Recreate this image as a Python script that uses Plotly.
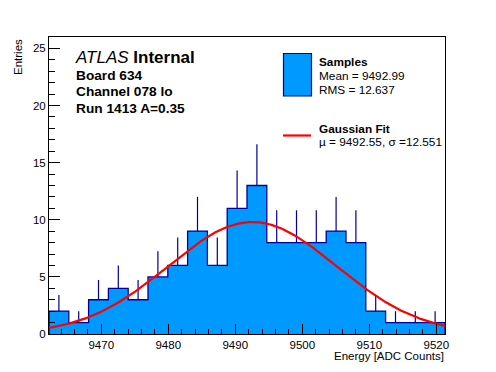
import numpy as np
import plotly.graph_objects as go

# ---- data ----
x_min, x_max = 9462.2, 9521.3
counts = [2, 1, 3, 4, 3, 5, 6, 9, 6, 11, 13, 8, 8, 8, 9, 8, 2, 1, 1, 1]
fit_mu, fit_sigma, fit_amp = 9492.55, 12.551, 9.8
y_range = [0, 26]
x_ticks = [9470, 9480, 9490, 9500, 9510, 9520]

title_lines = ["Board 634", "Channel 078 lo", "Run 1413 A=0.35"]
legend_samples = ["Mean = 9492.99", "RMS = 12.637"]
legend_fit = "\u00b5 = 9492.55, \u03c3 =12.551"

OFF = 8  # page body margin
W, H = 496 - OFF, 372 - OFF
L, R, T, B = 49 - OFF, 51, 37 - OFF, 38
PW, PH = W - L - R, H - T - B

def px(x):  # page pixel x -> paper x
    return (x - OFF - L) / PW

def py(y):  # page pixel y -> paper y
    return 1 - (y - OFF - T) / PH

nb = len(counts)
edges = np.linspace(x_min, x_max, nb + 1)
centers = 0.5 * (edges[:-1] + edges[1:])
bw = edges[1] - edges[0]
vals = np.array(counts, dtype=float)

FILL = "#0099FF"
EDGE = "#000099"
FONT = "Liberation Sans, Arial, sans-serif"

fig = go.Figure()
fig.add_trace(go.Bar(x=centers, y=vals, width=bw, marker=dict(color=FILL, line=dict(width=0)),
                     showlegend=False, hoverinfo="skip"))
# step outline
sx = [edges[0], edges[0]] + list(edges[1:nb]) + [edges[nb], edges[nb]]
sy = [0] + list(vals) + [vals[-1], 0]
fig.add_trace(go.Scatter(x=sx, y=sy, mode="lines", line=dict(color=EDGE, width=1.3, shape="hv"),
                         showlegend=False, hoverinfo="skip"))
# error bars (upper part)
fig.add_trace(go.Scatter(x=centers, y=vals, mode="markers", marker=dict(size=0.1, opacity=0),
                         error_y=dict(type="data", symmetric=False, array=np.sqrt(vals),
                                      arrayminus=np.zeros(nb), color=EDGE, thickness=1.2, width=0),
                         showlegend=False, hoverinfo="skip"))
# gaussian fit
gx = np.linspace(x_min, x_max, 300)
gy = fit_amp * np.exp(-0.5 * ((gx - fit_mu) / fit_sigma) ** 2)
fig.add_trace(go.Scatter(x=gx, y=gy, mode="lines", line=dict(color="#FF0000", width=2.2),
                         showlegend=False, hoverinfo="skip"))

fig.update_layout(
    width=W, height=H, margin=dict(l=L, r=R, t=T, b=B),
    paper_bgcolor="white", plot_bgcolor="white",
    font=dict(family=FONT, size=11, color="black"),
    bargap=0,
)
fig.update_xaxes(range=[x_min, x_max], showgrid=False, zeroline=False,
                 showline=True, linecolor="black", linewidth=1, mirror=True,
                 tickvals=x_ticks, ticks="inside", ticklen=10, tickcolor="black",
                 minor=dict(dtick=2, tick0=9470, ticks="inside", ticklen=5, tickcolor="black"),
                 tickfont=dict(size=11.5))
fig.update_yaxes(range=y_range, showgrid=False, zeroline=False,
                 showline=True, linecolor="black", linewidth=1, mirror=True,
                 dtick=5, ticks="inside", ticklen=11, tickcolor="black",
                 minor=dict(dtick=1, ticks="inside", ticklen=6, tickcolor="black"),
                 tickfont=dict(size=11.5))

ann = []
def text(x, y, t, size=11, xanchor="left", yanchor="middle", angle=0):
    ann.append(dict(x=px(x), y=py(y), xref="paper", yref="paper", text=t, showarrow=False,
                    xanchor=xanchor, yanchor=yanchor, textangle=angle,
                    font=dict(size=size, family=FONT, color="black")))

text(446, 356, "Energy [ADC Counts]", 11.5, xanchor="right")
text(18, 37, "Entries", 11.5, xanchor="center", yanchor="top", angle=-90)
text(73, 57, "<i>ATLAS</i> <b>Internal</b>", 17)
for i, t in enumerate(title_lines):
    text(74, 75 + i * 16.7, "<b>" + t + "</b>", 13.7)

# legend
shapes = [dict(type="rect", xref="paper", yref="paper", x0=px(283.5), x1=px(311.5), y0=py(96), y1=py(53.5),
               fillcolor=FILL, line=dict(color=EDGE, width=1.2)),
          dict(type="line", xref="paper", yref="paper", x0=px(283), x1=px(311), y0=py(135.5), y1=py(135.5),
               line=dict(color="#FF0000", width=2.2))]
text(317, 62, "<b>Samples</b>", 11.8)
text(317, 76, legend_samples[0], 11.8)
text(317, 89.5, legend_samples[1], 11.8)
text(317, 129, "<b>Gaussian Fit</b>", 11.8)
text(317, 141.5, legend_fit, 11.8)

fig.update_layout(annotations=ann, shapes=shapes)
fig.write_html("out.html")
